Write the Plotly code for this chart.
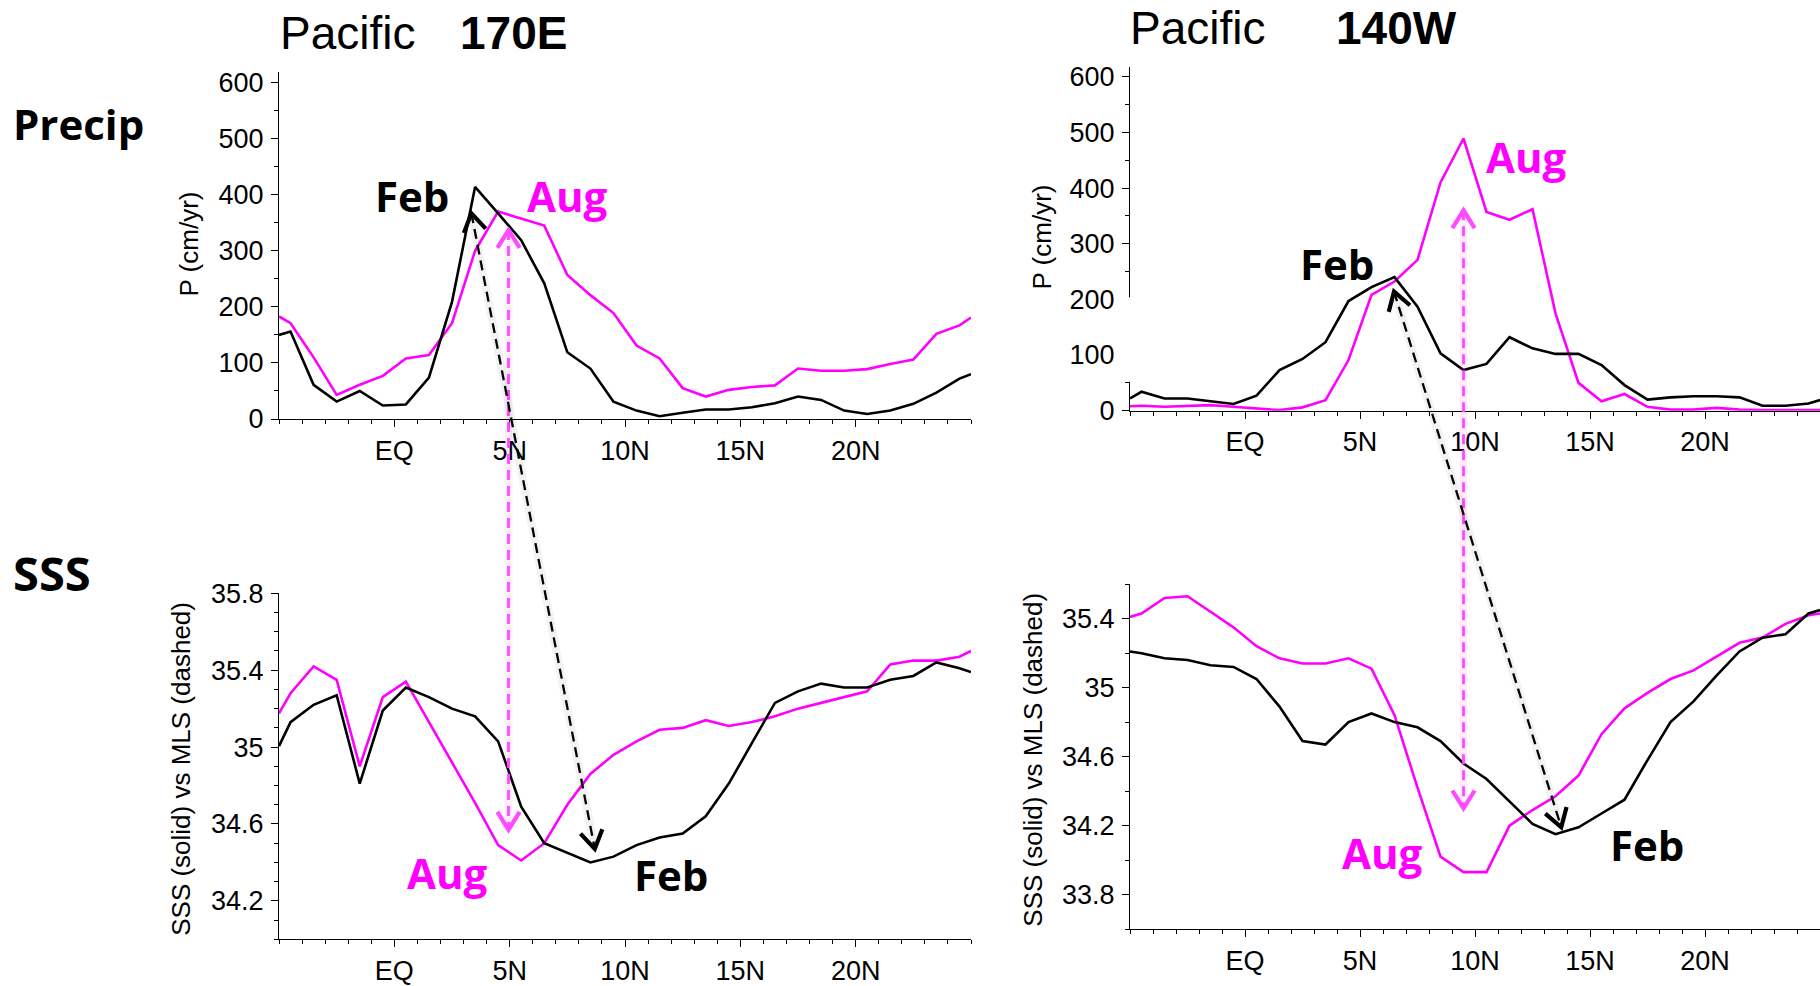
import math
import plotly.graph_objects as go

W, H = 1820, 986

# ---------------------------------------------------------------- data
# latitude of each point (deg; negative = south, edges clipped to the axes)
lat = [-5, -4.5, -3.5, -2.5, -1.5, -0.5, 0.5, 1.5, 2.5, 3.5, 4.5, 5.5, 6.5, 7.5,
       8.5, 9.5, 10.5, 11.5, 12.5, 13.5, 14.5, 15.5, 16.5, 17.5, 18.5, 19.5,
       20.5, 21.5, 22.5, 23.5, 24.5, 25]

# precipitation (cm/yr)
precip_170e_feb = [150, 156, 61, 31, 50, 24, 26, 74, 209, 414, 367, 319, 242, 119,
                   90, 31, 15, 5, 11, 17, 17, 21, 28, 40, 34, 15, 9, 15, 27, 47, 72, 80]
precip_170e_aug = [183, 171, 110, 43, 61, 77, 108, 114, 171, 300, 370, 357, 345, 257,
                   221, 189, 131, 108, 55, 40, 52, 57, 60, 90, 86, 86, 89, 98, 106, 152, 167, 181]
precip_140w_feb = [22, 34, 22, 22, 17, 12, 27, 73, 93, 123, 197, 222, 240, 187,
                   103, 73, 84, 132, 112, 102, 102, 82, 46, 20, 24, 26, 26, 24, 9, 9, 13, 19]
precip_140w_aug = [8, 9, 7, 9, 10, 7, 4, 1, 6, 19, 91, 208, 232, 271,
                   410, 489, 357, 343, 362, 175, 50, 17, 30, 7, 2, 2, 5, 2, 1, 1, 1, 1]

# sea surface salinity
sss_170e_feb = [35.005, 35.13, 35.22, 35.27, 34.81, 35.19, 35.31, 35.26, 35.20, 35.16,
                35.03, 34.69, 34.50, 34.45, 34.40, 34.43, 34.49, 34.53, 34.55, 34.64,
                34.81, 35.02, 35.23, 35.29, 35.33, 35.31, 35.31, 35.35, 35.37, 35.44,
                35.41, 35.39]
sss_170e_aug = [35.175, 35.28, 35.42, 35.35, 34.90, 35.26, 35.34, 35.13, 34.92, 34.71,
                34.49, 34.41, 34.50, 34.70, 34.86, 34.96, 35.03, 35.09, 35.10, 35.14,
                35.11, 35.13, 35.16, 35.20, 35.23, 35.26, 35.29, 35.43, 35.45, 35.45,
                35.47, 35.50]
sss_140w_feb = [35.21, 35.20, 35.17, 35.16, 35.13, 35.12, 35.05, 34.89, 34.69, 34.67,
                34.80, 34.85, 34.80, 34.77, 34.69, 34.56, 34.47, 34.34, 34.21, 34.15,
                34.19, 34.27, 34.35, 34.58, 34.80, 34.92, 35.07, 35.21, 35.29, 35.31,
                35.43, 35.45]
sss_140w_aug = [35.41, 35.43, 35.52, 35.53, 35.44, 35.35, 35.24, 35.17, 35.14, 35.14,
                35.17, 35.11, 34.84, 34.42, 34.02, 33.93, 33.93, 34.20, 34.29, 34.37,
                34.49, 34.73, 34.88, 34.97, 35.05, 35.10, 35.18, 35.26, 35.29, 35.37,
                35.42, 35.43]

lat_tickvals = [0, 5, 10, 15, 20]
lat_ticktext = ["EQ", "5N", "10N", "15N", "20N"]
precip_tickvals = [0, 100, 200, 300, 400, 500, 600]
sss_170e_tickvals = [34.2, 34.6, 35.0, 35.4, 35.8]
sss_170e_ticktext = ["34.2", "34.6", "35", "35.4", "35.8"]
sss_140w_tickvals = [33.8, 34.2, 34.6, 35.0, 35.4]
sss_140w_ticktext = ["33.8", "34.2", "34.6", "35", "35.4"]

# arrows linking the rain-band peak to the salinity minimum: (lat, value) top -> bottom
feb_arrow_170e = [(3.34, 367), (8.69, 34.47)]
aug_arrow_170e = [(4.95, 337), (4.95, 34.57)]
feb_arrow_140w = [(6.48, 214), (13.75, 34.19)]
aug_arrow_140w = [(9.5, 360), (9.5, 34.30)]

FEB = "#000000"
AUG = "#FF00FF"
AUG_ARROW = "#FF4AFF"

# ---------------------------------------------------------------- layout geometry
panels = {
    "tl": dict(xa="x", ya="y", xd=[279 / W, 971 / W], yd=[1 - 419 / H, 1 - 71.5 / H],
               xr=[-5, 25], yr=[0, 620]),
    "tr": dict(xa="x2", ya="y2", xd=[1130 / W, 1.0], yd=[1 - 410.7 / H, 1 - 66.7 / H],
               xr=[-5, 25], yr=[0, 618]),
    "bl": dict(xa="x3", ya="y3", xd=[279 / W, 971 / W], yd=[1 - 939.3 / H, 1 - 593.3 / H],
               xr=[-5, 25], yr=[34.0, 35.8]),
    "br": dict(xa="x4", ya="y4", xd=[1130 / W, 1.0], yd=[1 - 929 / H, 1 - 584.2 / H],
               xr=[-5, 25], yr=[33.6, 35.6]),
}


def to_px(p, x, y):
    """data coordinates of a panel -> page pixels (origin top-left)"""
    pn = panels[p]
    fx = (x - pn["xr"][0]) / (pn["xr"][1] - pn["xr"][0])
    fy = (y - pn["yr"][0]) / (pn["yr"][1] - pn["yr"][0])
    px = (pn["xd"][0] + fx * (pn["xd"][1] - pn["xd"][0])) * W
    py = (1 - (pn["yd"][0] + fy * (pn["yd"][1] - pn["yd"][0]))) * H
    return px, py


TICK_FONT = dict(family="Liberation Sans, Arial, Helvetica, sans-serif", size=27, color="black")
LABEL_FONT = "Open Sans, Noto Sans, sans-serif"

fig = go.Figure()

series = [
    ("tl", precip_170e_feb, FEB), ("tl", precip_170e_aug, AUG),
    ("tr", precip_140w_feb, FEB), ("tr", precip_140w_aug, AUG),
    ("bl", sss_170e_feb, FEB), ("bl", sss_170e_aug, AUG),
    ("br", sss_140w_feb, FEB), ("br", sss_140w_aug, AUG),
]
# draw Aug first so Feb sits on top where the curves cross
for p, vals, col in sorted(series, key=lambda s: s[2] == FEB):
    fig.add_trace(go.Scatter(
        x=lat, y=vals, mode="lines", xaxis=panels[p]["xa"], yaxis=panels[p]["ya"],
        line=dict(color=col, width=2.6), hoverinfo="skip", showlegend=False))

common = dict(showline=True, linecolor="black", linewidth=1.3, ticks="outside",
              ticklen=7, tickwidth=1.3, tickcolor="black", showgrid=False,
              zeroline=False, tickfont=TICK_FONT, fixedrange=True, automargin=False)


def xaxis_cfg(p):
    pn = panels[p]
    return dict(common, domain=pn["xd"], range=pn["xr"], anchor=pn["ya"],
                tickmode="array", tickvals=lat_tickvals, ticktext=lat_ticktext,
                ticklabelstandoff=0,
                minor=dict(ticks="outside", ticklen=4, tickwidth=1.2, tickcolor="black",
                           dtick=1, tick0=0, showgrid=False))


def yaxis_cfg(p, tickvals, ticktext, mdtick, mtick0):
    pn = panels[p]
    return dict(common, domain=pn["yd"], range=pn["yr"], anchor=pn["xa"],
                tickmode="array", tickvals=tickvals, ticktext=ticktext,
                ticklabelstandoff=2,
                minor=dict(ticks="outside", ticklen=4, tickwidth=1.2, tickcolor="black",
                           dtick=mdtick, tick0=mtick0, showgrid=False))


fig.update_layout(
    width=W, height=H, autosize=False,
    margin=dict(l=0, r=0, t=0, b=0, pad=0, autoexpand=False),
    paper_bgcolor="white", plot_bgcolor="white",
    showlegend=False,
    xaxis=xaxis_cfg("tl"), xaxis2=xaxis_cfg("tr"),
    xaxis3=xaxis_cfg("bl"), xaxis4=xaxis_cfg("br"),
    yaxis=yaxis_cfg("tl", precip_tickvals, [str(v) for v in precip_tickvals], 50, 0),
    yaxis2=yaxis_cfg("tr", precip_tickvals, [str(v) for v in precip_tickvals], 50, 0),
    yaxis3=yaxis_cfg("bl", sss_170e_tickvals, sss_170e_ticktext, 0.1, 34.0),
    yaxis4=yaxis_cfg("br", sss_140w_tickvals, sss_140w_ticktext, 0.2, 33.6),
)

shapes = []

# break in the 140W precipitation axis line
shapes.append(dict(type="rect", xref="paper", yref="y2",
                   x0=(panels["tr"]["xd"][0] * W - 10) / W,
                   x1=(panels["tr"]["xd"][0] * W + 1.5) / W,
                   y0=52, y1=204, fillcolor="white", line=dict(width=0), layer="above"))


def paper(px, py):
    return px / W, 1 - py / H


def chevron(tip, tail, color, length=21, half_angle=32, width=4.2):
    tx, ty = tip
    dx, dy = tip[0] - tail[0], tip[1] - tail[1]
    n = math.hypot(dx, dy)
    ux, uy = dx / n, dy / n
    pts = []
    for s in (-1, 1):
        a = math.radians(s * half_angle)
        rx = ux * math.cos(a) - uy * math.sin(a)
        ry = ux * math.sin(a) + uy * math.cos(a)
        pts.append((tx - length * rx, ty - length * ry))
    p1, p2 = paper(*pts[0]), paper(*pts[1])
    pt = paper(tx, ty)
    path = f"M {p1[0]},{p1[1]} L {pt[0]},{pt[1]} L {p2[0]},{p2[1]}"
    return dict(type="path", xref="paper", yref="paper", path=path,
                line=dict(color=color, width=width), layer="above")


def dashed_arrow(top_panel, bot_panel, ends, color, width, glow):
    top = to_px(top_panel, *ends[0])
    bot = to_px(bot_panel, *ends[1])
    (x0, y0), (x1, y1) = paper(*top), paper(*bot)
    out = [dict(type="line", xref="paper", yref="paper", x0=x0, y0=y0, x1=x1, y1=y1,
                line=dict(color=glow, width=8), layer="above"),
           dict(type="line", xref="paper", yref="paper", x0=x0, y0=y0, x1=x1, y1=y1,
                line=dict(color=color, width=width, dash="10px,6px"), layer="above"),
           chevron(top, bot, color), chevron(bot, top, color)]
    return out


shapes += dashed_arrow("tl", "bl", aug_arrow_170e, AUG_ARROW, 2.8, "rgba(255,0,255,0.07)")
shapes += dashed_arrow("tl", "bl", feb_arrow_170e, FEB, 2.3, "rgba(0,0,0,0.05)")
shapes += dashed_arrow("tr", "br", aug_arrow_140w, AUG_ARROW, 2.8, "rgba(255,0,255,0.07)")
shapes += dashed_arrow("tr", "br", feb_arrow_140w, FEB, 2.3, "rgba(0,0,0,0.05)")

annotations = []


def text(x, y, s, size, family, color="black", xanchor="left", xref="paper", yref="paper",
         angle=0, weight="normal"):
    annotations.append(dict(x=x, y=y, xref=xref, yref=yref, text=s, showarrow=False,
                            xanchor=xanchor, yanchor="middle", textangle=angle,
                            font=dict(size=size, family=family, color=color, weight=weight)))


TITLE_FAMILY = "Liberation Sans, Arial, Helvetica, sans-serif"
# column headings
text(278 / W, 1 - 33.3 / H, "Pacific", 46, TITLE_FAMILY)
text(458 / W, 1 - 33.3 / H, "<b>170E</b>", 46, TITLE_FAMILY)
text(1128 / W, 1 - 28.3 / H, "Pacific", 46, TITLE_FAMILY)
text(1334 / W, 1 - 28.3 / H, "<b>140W</b>", 46, TITLE_FAMILY)

# row headings
text(11 / W, 1 - 123 / H, "Precip", 42, LABEL_FONT, weight="bold")
text(11 / W, 1 - 573 / H, "SSS", 47, LABEL_FONT, weight="bold")

# axis titles
text(188.5 / W, 1 - 244 / H, "P (cm/yr)", 26, TITLE_FAMILY, xanchor="center", angle=-90)
text(1041.5 / W, 1 - 237 / H, "P (cm/yr)", 26, TITLE_FAMILY, xanchor="center", angle=-90)
text(180.8 / W, 1 - 769 / H, "SSS (solid) vs MLS (dashed)", 26, TITLE_FAMILY,
     xanchor="center", angle=-90)
text(1032.7 / W, 1 - 760 / H, "SSS (solid) vs MLS (dashed)", 26, TITLE_FAMILY,
     xanchor="center", angle=-90)

# month labels, placed in each panel's data coordinates
month_labels = [
    ("tl", 0.77, 399, "Feb", FEB), ("tl", 7.51, 398, "Aug", AUG),
    ("tr", 3.98, 265, "Feb", FEB), ("tr", 12.25, 456, "Aug", AUG),
    ("bl", 2.31, 34.345, "Aug", AUG), ("bl", 11.98, 34.335, "Feb", FEB),
    ("br", 5.96, 34.043, "Aug", AUG), ("br", 17.47, 34.093, "Feb", FEB),
]
for p, x, y, s, col in month_labels:
    text(x, y, s, 42, LABEL_FONT, color=col, xanchor="center",
         xref=panels[p]["xa"], yref=panels[p]["ya"], weight="bold")

fig.update_layout(shapes=shapes, annotations=annotations)
fig.write_html("out.html", config={"displayModeBar": False})
